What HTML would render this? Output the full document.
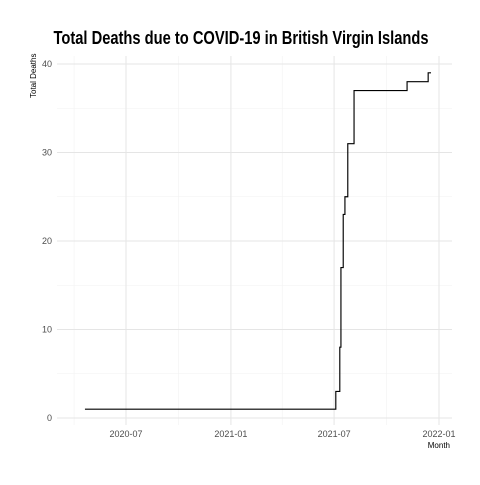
<!DOCTYPE html>
<html><head><meta charset="utf-8"><style>
body{margin:0;background:#fff}
text{font-family:"Liberation Sans",sans-serif}
</style></head><body>
<svg id="c" width="480" height="480" xmlns="http://www.w3.org/2000/svg">
<rect width="480" height="480" fill="#fff"/>
<text x="241" y="44" text-anchor="middle" font-size="18" font-weight="bold" textLength="375" lengthAdjust="spacingAndGlyphs" fill="#000">Total Deaths due to COVID-19 in British Virgin Islands</text>
<g id="grid"></g>
<g id="axes"></g>
<path id="line" fill="none" stroke="#000" stroke-width="1.15"/>
<text transform="translate(36,98) rotate(-90)" font-size="8" fill="#000">Total Deaths</text>
<text x="450" y="448" text-anchor="end" font-size="8" fill="#000">Month</text>
</svg>
<script>
const dates=["2020-04-20","2021-07-04","2021-07-11","2021-07-13","2021-07-17","2021-07-20","2021-07-25","2021-08-05","2021-11-06","2021-12-13","2021-12-18"];
const values=[1,3,8,17,23,25,31,37,38,39,39];
const yTicks=[0,10,20,30,40];
const xTicks=["2020-07-01","2021-01-01","2021-07-01","2022-01-01"];
const xTickLabels=["2020-07","2021-01","2021-07","2022-01"];
const xMinor=["2020-04-01","2020-10-01","2021-04-01","2021-10-01"];
const yMinor=[5,15,25,35];
const NS="http://www.w3.org/2000/svg";
const t0=Date.parse("2020-07-01"),t1=Date.parse("2022-01-01");
function x(d){return 126+(Date.parse(d)-t0)/(t1-t0)*313;}
function y(v){return 418-v*8.85;}
const L=57,R=452,T=56,B=425;
const grid=document.getElementById('grid'),axes=document.getElementById('axes');
function ln(x1,y1,x2,y2,c,w,p){const l=document.createElementNS(NS,'line');l.setAttribute('x1',x1);l.setAttribute('y1',y1);l.setAttribute('x2',x2);l.setAttribute('y2',y2);l.setAttribute('stroke',c);l.setAttribute('stroke-width',w);p.appendChild(l);return l;}
function tx(s,xx,yy,a,p){const e=document.createElementNS(NS,'text');e.setAttribute('x',xx);e.setAttribute('y',yy);e.setAttribute('text-anchor',a);e.setAttribute('font-size','9');e.setAttribute('fill','#4d4d4d');e.textContent=s;p.appendChild(e);return e;}
yMinor.forEach(v=>{const l=ln(L,y(v),R,y(v),'#f2f2f2',0.6,grid);

});
xMinor.forEach(d=>{const l=ln(x(d),T,x(d),B,'#f2f2f2',0.6,grid);

});
yTicks.forEach(v=>{const l=ln(L,y(v),R,y(v),'#e5e5e5',1,grid);


const t=tx(String(v),52,y(v)+3,'end',axes);

});
xTicks.forEach((d,i)=>{const l=ln(x(d),T,x(d),B,'#e5e5e5',1,grid);


const t=tx(xTickLabels[i],x(d),437,'middle',axes);

});
let p='M'+x(dates[0])+','+y(values[0]);
for(let i=1;i<dates.length;i++){p+=' H'+x(dates[i])+' V'+y(values[i]);}
document.getElementById('line').setAttribute('d',p);
</script>
</body></html>
